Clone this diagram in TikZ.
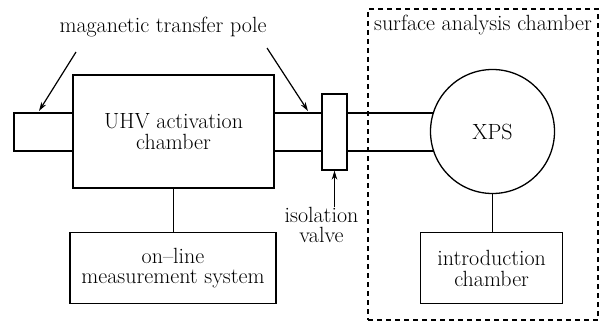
\documentclass[tikz,border=0pt]{standalone}
\usetikzlibrary{arrows.meta,calc}
\begin{document}
\begin{tikzpicture}[x=1pt,y=-1pt,
  every node/.style={font=\fontsize{22}{20.5}\selectfont},
  box/.style={draw,line width=1.3pt,rectangle,inner sep=0pt,align=center},
  pipe/.style={line width=1.3pt},
  pointer/.style={line width=1.2pt,-{Stealth[length=9pt,width=5.5pt]}},
  lbl/.style={align=center,inner sep=0pt}]
\useasboundingbox (0,0) rectangle (610,324);
% dashed surface analysis chamber
\node[draw,line width=1.3pt,dash pattern=on 5pt off 4pt,minimum width=230pt,minimum height=311pt,inner sep=0pt] (sac) at (483,164.5) {};
\node[lbl] (saclbl) at (483,25) {surface analysis chamber};
% main chamber
\node[box,minimum width=201pt,minimum height=113pt] (uhv) at (173.5,131.5) {UHV activation\\chamber};
\node[box,minimum width=59pt,minimum height=38pt] (lpole) at (43.5,132) {};
\node[box,minimum width=25pt,minimum height=76pt] (valve) at (334.5,132) {};
\node[draw,circle,line width=1.3pt,minimum size=124pt,inner sep=0pt] (xps) at (492.5,131.5) {XPS};
\node[box,minimum width=206pt,minimum height=71pt] (online) at (173,268.3) {on--line\\measurement system};
\node[box,minimum width=142pt,minimum height=71pt] (intro) at (491.7,268.3) {introduction\\chamber};
% pipes
\coordinate (ptop) at (0,113);
\coordinate (pbot) at (0,151);
\coordinate (xtop) at ($(xps.center)+(-59.2,-18.5)$);
\coordinate (xbot) at ($(xps.center)+(-58.9,19.5)$);
\draw[pipe] (uhv.east |- ptop) -- (valve.west |- ptop);
\draw[pipe] (uhv.east |- pbot) -- (valve.west |- pbot);
\draw[pipe] (valve.east |- xtop) -- (xtop);
\draw[pipe] (valve.east |- xbot) -- (xbot);
\draw[pipe] (uhv.south) -- (uhv.south |- online.north);
\draw[pipe] (xps.south) -- (xps.south |- intro.north);
% labels and pointers
\node[lbl] (mtp) at (163,27) {maganetic transfer pole};
\coordinate (a1s) at (76,52);
\coordinate (a1e) at (39,111);
\coordinate (a2s) at (267,48);
\coordinate (a2e) at (308,111);
\draw[pointer] (a1s) -- (a1e);
\draw[pointer] (a2s) -- (a2e);
\node[lbl] (iv) at (321.5,225) {isolation\\valve};
\draw[pointer] (iv.north -| valve.south) -- (valve.south);
\end{tikzpicture}
\end{document}
